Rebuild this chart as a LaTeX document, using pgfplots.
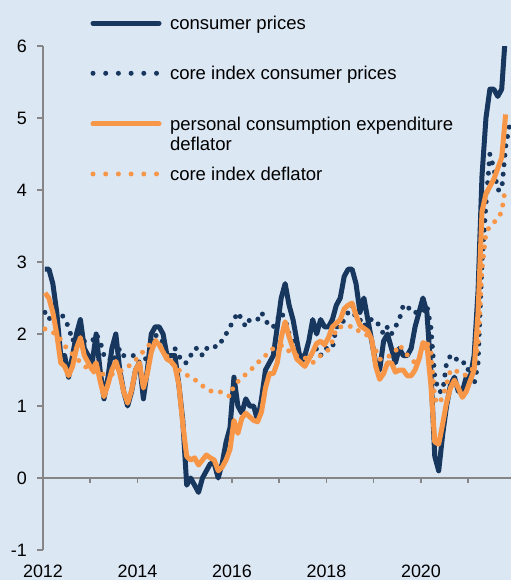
\documentclass[border=0pt]{standalone}
\usepackage{fontspec}
\setmainfont{Liberation Sans}
\usepackage{pgfplots}
\usepackage{pgfplotstable}
\pgfplotsset{compat=1.18}
\definecolor{bgblue}{RGB}{220,231,244}
\definecolor{navy}{RGB}{23,55,94}
\definecolor{orng}{RGB}{247,150,70}
\definecolor{axgray}{RGB}{134,134,134}

\pgfplotstableread{
m cpi core pce cpce
0 2.9 2.3 2.57 2.07
1 2.9 2.2 2.5 2.05
2 2.7 2.3 2.3 2.02
3 2.3 2.3 2.0 2.0
4 1.7 2.3 1.6 1.92
5 1.7 2.2 1.55 1.84
6 1.4 2.1 1.42 1.77
7 1.7 1.9 1.55 1.72
8 2.0 2.0 1.8 1.66
9 2.2 2.0 1.95 1.61
10 1.8 1.9 1.7 1.56
11 1.7 1.9 1.6 1.51
12 1.6 1.9 1.5 1.48
13 2.0 2.0 1.6 1.46
14 1.5 1.9 1.35 1.45
15 1.1 1.7 1.13 1.44
16 1.4 1.7 1.3 1.43
17 1.8 1.6 1.5 1.44
18 2.0 1.7 1.62 1.46
19 1.5 1.8 1.45 1.48
20 1.2 1.7 1.2 1.51
21 1.0 1.7 1.04 1.54
22 1.2 1.7 1.22 1.59
23 1.5 1.7 1.5 1.64
24 1.6 1.6 1.6 1.7
25 1.1 1.6 1.25 1.76
26 1.5 1.7 1.45 1.82
27 2.0 1.8 1.75 1.88
28 2.1 2.0 1.9 1.92
29 2.1 1.9 1.85 1.85
30 2.0 1.9 1.75 1.77
31 1.7 1.7 1.65 1.69
32 1.7 1.7 1.62 1.61
33 1.7 1.8 1.55 1.55
34 1.3 1.7 1.3 1.5
35 0.8 1.6 0.75 1.46
36 -0.1 1.6 0.3 1.43
37 0.0 1.7 0.25 1.4
38 -0.1 1.8 0.28 1.37
39 -0.2 1.8 0.18 1.32
40 0.0 1.7 0.25 1.28
41 0.1 1.8 0.32 1.24
42 0.2 1.8 0.28 1.21
43 0.2 1.8 0.25 1.2
44 0.0 1.9 0.1 1.2
45 0.2 1.9 0.15 1.19
46 0.5 2.0 0.25 1.16
47 0.7 2.1 0.4 1.13
48 1.4 2.2 0.8 1.29
49 1.0 2.3 0.62 1.34
50 0.9 2.2 0.83 1.39
51 1.1 2.1 0.9 1.44
52 1.0 2.2 0.85 1.49
53 1.0 2.2 0.8 1.54
54 0.8 2.2 0.78 1.6
55 1.1 2.3 0.92 1.65
56 1.5 2.2 1.25 1.7
57 1.6 2.1 1.45 1.76
58 1.7 2.1 1.45 1.8
59 2.1 2.2 1.6 1.82
60 2.5 2.3 1.95 1.84
61 2.7 2.2 2.17 1.83
62 2.4 2.0 1.96 1.76
63 2.2 1.9 1.8 1.71
64 1.9 1.7 1.65 1.7
65 1.6 1.7 1.6 1.7
66 1.7 1.7 1.55 1.67
67 1.9 1.7 1.65 1.63
68 2.2 1.7 1.75 1.6
69 2.0 1.8 1.87 1.65
70 2.2 1.7 1.9 1.7
71 2.1 1.8 1.85 1.74
72 2.1 1.8 1.95 1.78
73 2.2 1.8 2.1 1.9
74 2.4 2.1 2.15 2.08
75 2.5 2.1 2.2 2.1
76 2.8 2.2 2.35 2.1
77 2.9 2.3 2.4 2.1
78 2.9 2.4 2.43 2.11
79 2.7 2.2 2.26 2.07
80 2.3 2.2 2.12 2.03
81 2.5 2.1 2.08 2.0
82 2.2 2.2 2.04 1.98
83 1.9 2.2 1.92 1.9
84 1.6 2.2 1.55 1.78
85 1.5 2.1 1.37 1.65
86 1.9 2.0 1.45 1.65
87 2.0 2.1 1.6 1.68
88 1.8 2.0 1.6 1.71
89 1.6 2.1 1.47 1.76
90 1.8 2.2 1.5 1.85
91 1.7 2.4 1.5 1.78
92 1.7 2.4 1.42 1.71
93 1.8 2.3 1.42 1.65
94 2.1 2.3 1.5 1.6
95 2.3 2.3 1.65 1.65
96 2.5 2.3 1.88 1.8
97 2.3 2.4 1.85 1.89
98 1.5 2.1 1.3 1.75
99 0.3 1.4 0.5 1.1
100 0.1 1.2 0.47 1.03
101 0.6 1.2 0.75 1.12
102 1.0 1.6 1.05 1.3
103 1.3 1.7 1.25 1.5
104 1.4 1.7 1.36 1.5
105 1.2 1.6 1.25 1.47
106 1.2 1.6 1.12 1.43
107 1.4 1.6 1.2 1.43
108 1.4 1.4 1.35 1.47
109 1.7 1.3 1.5 1.55
110 2.6 1.6 2.3 1.85
111 4.2 3.0 3.7 2.9
112 5.0 3.8 3.95 3.4
113 5.4 4.5 4.05 3.5
114 5.4 4.3 4.15 3.55
115 5.3 4.0 4.3 3.6
116 5.4 4.0 4.45 3.7
117 6.2 4.6 5.05 4.05
118 6.8 4.9 nan nan
}\datatable

\begin{document}
\begin{tikzpicture}
\fill[bgblue] (-43bp,-30bp) rectangle (468bp,550bp);
\useasboundingbox (-43bp,-30bp) rectangle (468bp,550bp);
\begin{axis}[
  at={(0,0)}, anchor=south west,
  scale only axis, width=468bp, height=504bp,
  xmin=2012, xmax=2021.905, ymin=-1, ymax=6,
  axis x line*=bottom, axis y line*=left,
  x axis line style={draw=none},
  xtick={2012,2014,2016,2018,2020},
  xticklabels={2012,2014,2016,2018,2020},
  xtick style={draw=none},
  ytick={-1,0,1,2,3,4,5,6},
  tick align=outside, major tick length=6bp,
  y axis line style={axgray, line width=1.5bp},
  ytick style={axgray, line width=1.5bp},
  tick label style={font=\fontsize{18}{20}\selectfont, text=black},
  /pgf/number format/assume math mode=true,
  yticklabel style={inner sep=0pt, xshift=-10bp},
  xticklabel style={anchor=north, inner sep=0pt, yshift=-9bp},
  unbounded coords=jump,
  legend style={at={(0.1015,1.0635)}, anchor=north west, draw=none, fill=none,
    inner sep=0pt, outer sep=0pt, row sep=0pt, column sep=8.5bp,
    font=\fontsize{18.6}{21}\selectfont, text=black,
    cells={anchor=west}, nodes={inner sep=0pt, outer sep=0pt}},
  legend cell align=left,
  legend image code/.code={\draw[#1] (0bp,0bp) -- (66bp,0bp);},
]
\addplot[forget plot, axgray, line width=1.5bp] coordinates {(2012,0) (2021.905,0)};
\pgfplotsinvokeforeach{2013,2014,2015,2016,2017,2018,2019,2020,2021}{
  \addplot[forget plot, axgray, line width=1.5bp] coordinates {(#1,0) (#1,-0.07)};
}
\addplot[forget plot, navy, line width=5bp, line join=round] table[x expr={2012+(\thisrow{m}+0.5)/12}, y=cpi] {\datatable};
\addplot[forget plot, navy, line width=5bp, line cap=round, dash pattern=on 0bp off 9.5bp] table[x expr={2012+(\thisrow{m}+0.5)/12}, y=core] {\datatable};
\addplot[forget plot, orng, line width=5bp, line join=round] table[x expr={2012+(\thisrow{m}+0.5)/12}, y=pce] {\datatable};
\addplot[forget plot, orng, line width=5bp, line cap=round, dash pattern=on 0bp off 9.5bp] table[x expr={2012+(\thisrow{m}+0.5)/12}, y=cpce] {\datatable};

\addlegendimage{navy, line width=5bp, line cap=round}
\addlegendentry[text height=15.5bp, text depth=3.1bp]{consumer prices}
\addlegendimage{navy, line width=5bp, line cap=round, dash pattern=on 0bp off 12.7bp}
\addlegendentry[text height=46.9bp, text depth=34.5bp]{core index consumer prices}
\addlegendimage{orng, line width=5bp, line cap=round}
\addlegendentry[text height=16.2bp, text depth=3.8bp]{personal consumption expenditure}
\addlegendimage{empty legend}
\addlegendentry[text height=16.2bp, text depth=3.8bp]{deflator}
\addlegendimage{orng, line width=5bp, line cap=round, dash pattern=on 0bp off 12.7bp}
\addlegendentry[text height=26.2bp, text depth=13.8bp]{core index deflator}
\end{axis}
\end{tikzpicture}
\end{document}
